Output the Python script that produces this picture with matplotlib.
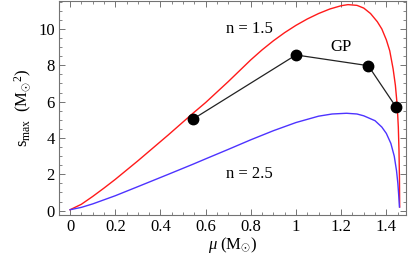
import matplotlib
matplotlib.use("Agg")
import matplotlib.pyplot as plt
from matplotlib.ticker import MultipleLocator

plt.rcParams['font.family'] = ['Liberation Serif', 'DejaVu Serif']
plt.rcParams['mathtext.fontset'] = 'custom'
plt.rcParams['mathtext.rm'] = 'Liberation Serif'
plt.rcParams['mathtext.it'] = 'Liberation Serif:italic'

# n = 1.5 curve
mu_red = [0.0, 0.05, 0.1, 0.15, 0.2, 0.3, 0.435, 0.543, 0.6, 0.7, 0.8, 0.85, 0.9, 0.95, 1.0,
          1.05, 1.1, 1.15, 1.2, 1.23, 1.27, 1.3, 1.33, 1.36, 1.38, 1.40, 1.415, 1.43, 1.44,
          1.448, 1.453, 1.456, 1.458, 1.459]
s_red = [0.05, 0.35, 0.78, 1.24, 1.72, 2.74, 4.17, 5.35, 5.95, 7.1, 8.3, 8.85, 9.35, 9.8, 10.2,
         10.55, 10.85, 11.1, 11.28, 11.34, 11.3, 11.15, 10.85, 10.4, 10.0, 9.4, 8.8, 7.8, 6.9,
         5.8, 4.6, 3.3, 1.8, 0.2]

# n = 2.5 curve
mu_blue = [0.0, 0.05, 0.1, 0.2, 0.3, 0.435, 0.543, 0.6, 0.7, 0.8, 0.9, 1.0, 1.1, 1.16, 1.224,
           1.27, 1.3, 1.35, 1.38, 1.4, 1.42, 1.435, 1.445, 1.451, 1.455, 1.458]
s_blue = [0.05, 0.18, 0.37, 0.82, 1.32, 2.0, 2.55, 2.85, 3.37, 3.9, 4.4, 4.85, 5.2, 5.32, 5.36,
          5.32, 5.22, 4.95, 4.6, 4.25, 3.7, 3.0, 2.2, 1.5, 0.8, 0.2]

# GP points
mu_gp = [0.543, 1.0, 1.32, 1.442]
s_gp = [5.03, 8.57, 7.98, 5.72]

fig = plt.figure(figsize=(4.15, 2.57), dpi=100)
ax = fig.add_axes([59/415, 1-215/257, (406-59)/415, (215-1)/257])

ax.plot(mu_red, s_red, color='#ff1a1a', lw=1.0)
ax.plot(mu_blue, s_blue, color='#4d33ff', lw=1.0)
ax.plot(mu_gp, s_gp, color='#222222', lw=0.9, marker='o', markersize=7.5,
        markerfacecolor='black', markeredgecolor='black')

ax.text(0.794, 10.0, 'n = 1.5', fontsize=12, ha='center', va='center')
ax.text(0.794, 2.02, 'n = 2.5', fontsize=12, ha='center', va='center')
ax.text(1.198, 9.0, 'GP', fontsize=12, ha='center', va='center')

ax.set_xlim(-0.049, 1.487)
ax.set_ylim(-0.24, 11.54)

ax.xaxis.set_minor_locator(MultipleLocator(0.05))
ax.yaxis.set_major_locator(MultipleLocator(2))
ax.yaxis.set_minor_locator(MultipleLocator(0.5))
ax.set_xticks([0, 0.2, 0.4, 0.6, 0.8, 1.0, 1.2, 1.4])
ax.set_xticklabels(['0', '0.2', '0.4', '0.6', '0.8', '1', '1.2', '1.4'])

ax.tick_params(which='both', direction='in', top=True, right=True, labelsize=12,
               color='0.45', pad=3)
ax.tick_params(which='major', length=4, width=0.7)
ax.tick_params(which='minor', length=2, width=0.6)
for sp in ax.spines.values():
    sp.set_color('0.45')
    sp.set_linewidth(0.8)

ax.set_xlabel(r'$\mu\ \mathrm{(M_{\odot})}$', fontsize=12, labelpad=0)
ax.set_ylabel(r'$\mathrm{s_{max}\ \ (M_{\odot}{}^{2})}$', fontsize=12, labelpad=3)

fig.savefig('out.png', dpi=100)
